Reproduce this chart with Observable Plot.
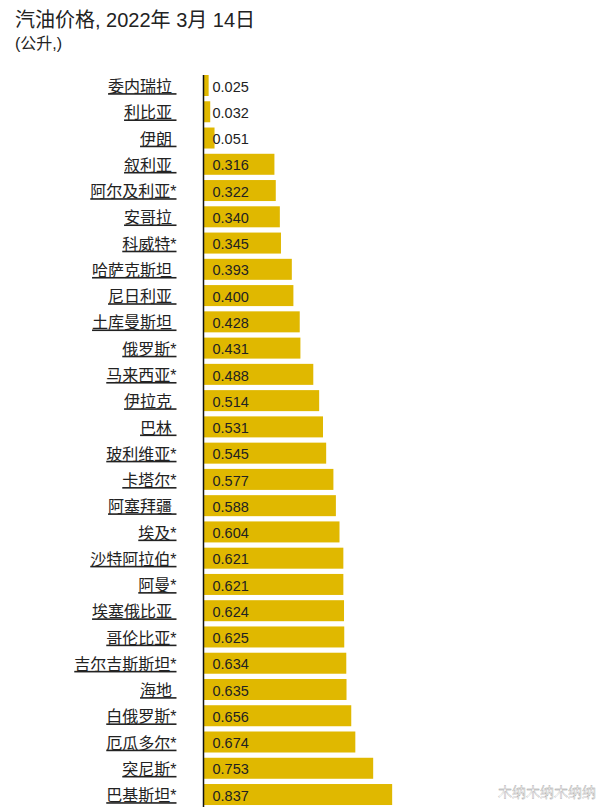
<!DOCTYPE html>
<html><head><meta charset="utf-8">
<script src="https://cdn.jsdelivr.net/npm/d3@7"></script>
<script src="https://cdn.jsdelivr.net/npm/@observablehq/plot@0.6"></script>
<style>
html,body{margin:0;padding:0;background:#fff;overflow:hidden;height:807px}
body{font-family:"Liberation Sans","Noto Sans CJK SC",sans-serif;color:#222;position:relative}
#t{position:absolute;left:15px;top:8px;font-size:20px;line-height:24px;white-space:pre}
#s{position:absolute;left:15px;top:34px;font-size:16px;line-height:20px;white-space:pre}
#c{position:absolute;left:0;top:75px}
#w{position:absolute;right:7px;top:781px;font-size:14px;color:#fff;-webkit-text-stroke:.35px #999;font-family:"Noto Sans CJK SC"}
svg text{font-family:"Liberation Sans","Noto Sans CJK SC",sans-serif}
.names text{text-decoration:underline;white-space:pre}
</style></head><body>
<div id="t">汽油价格, 2022年 3月 14日</div>
<div id="s">(公升,)</div>
<div id="c"></div>
<div id="w">木纳木纳木纳纳</div>
<script>
const countries=["委内瑞拉 ","利比亚 ","伊朗 ","叙利亚 ","阿尔及利亚*","安哥拉 ","科威特*","哈萨克斯坦 ","尼日利亚 ","土库曼斯坦 ","俄罗斯*","马来西亚*","伊拉克 ","巴林 ","玻利维亚*","卡塔尔*","阿塞拜疆 ","埃及*","沙特阿拉伯*","阿曼*","埃塞俄比亚 ","哥伦比亚*","吉尔吉斯斯坦*","海地 ","白俄罗斯*","厄瓜多尔*","突尼斯*","巴基斯坦*"];
const prices=[0.025,0.032,0.051,0.316,0.322,0.340,0.345,0.393,0.400,0.428,0.431,0.488,0.514,0.531,0.545,0.577,0.588,0.604,0.621,0.621,0.624,0.625,0.634,0.635,0.656,0.674,0.753,0.837];
const rows=countries.map((c,i)=>({c,i,p:prices[i]}));
const ml=203, step=26.26, w=603, h=732;
const chart=Plot.plot({
  width:w,height:h,marginLeft:ml,marginRight:0,marginTop:0,marginBottom:0,
  style:{background:"transparent",overflow:"hidden"},
  x:{domain:[0,(w-ml)/226],range:[ml,w],axis:null},
  y:{type:"band",domain:d3.range(countries.length),range:[0,step*28.2],padding:0.2,align:0,round:false,axis:null},
  marks:[
    Plot.barX(rows,{x:"p",y:"i",fill:"#e0b800"}),
    Plot.ruleX([0],{stroke:"#111",strokeWidth:1.5}),
    Plot.text(rows,{x:0,y:"i",text:d=>d.c,textAnchor:"end",dx:-27,dy:1,fontSize:16,fill:"#222",className:"names"}),
    Plot.text(rows,{x:0,y:"i",text:d=>d.p.toFixed(3),textAnchor:"start",dx:9,dy:1,fontSize:14.5,fill:"#222"})
  ]
});
document.getElementById("c").append(chart);
</script></body></html>
